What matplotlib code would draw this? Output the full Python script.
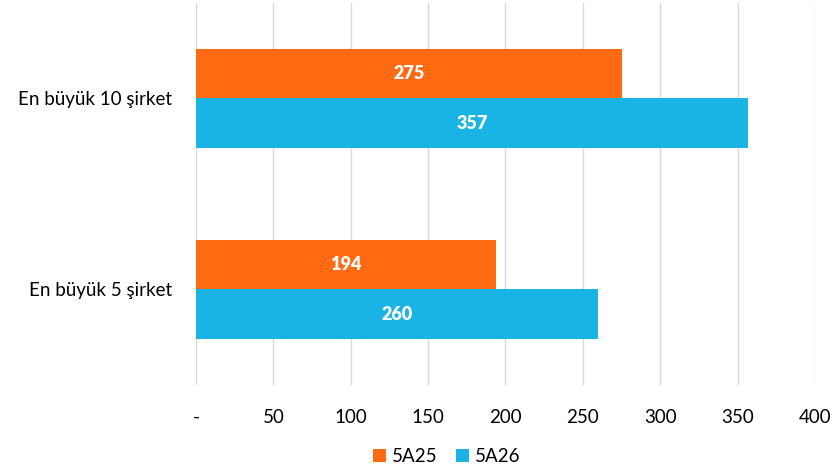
import numpy as np
import matplotlib.pyplot as plt

plt.rcParams['font.family'] = ['Lato', 'DejaVu Sans']

# data
categories = ['En büyük 10 şirket', 'En büyük 5 şirket']
series_names = ['5A25', '5A26']
values_5a25 = [275, 194]
values_5a26 = [357, 260]
xticks = [0, 50, 100, 150, 200, 250, 300, 350, 400]
xtick_labels = ['-', '50', '100', '150', '200', '250', '300', '350', '400']

colors = ['#FF6A13', '#19B4E3']

fig = plt.figure(figsize=(8.35, 4.75), dpi=100)
ax = fig.add_axes([0.2347, 0.1895, 0.7413, 0.8042])

y = np.arange(len(categories))
h = 0.26

b1 = ax.barh(y - h / 2, values_5a25, height=h, color=colors[0], label=series_names[0], zorder=3)
b2 = ax.barh(y + h / 2, values_5a26, height=h, color=colors[1], label=series_names[1], zorder=3)

for bars in (b1, b2):
    ax.bar_label(bars, label_type='center', color='white', fontsize=13,
                 fontweight='heavy')

ax.set_ylim(1.5, -0.5)
ax.set_xlim(0, 400)
ax.set_yticks(y)
ax.set_yticklabels(categories, fontsize=13.5)
ax.set_xticks(xticks)
ax.set_xticklabels(xtick_labels, fontsize=13.5)
ax.tick_params(length=0)
ax.tick_params(axis='y', pad=17)
ax.tick_params(axis='x', pad=17)

ax.grid(axis='x', color='#D9D9D9', linewidth=1, zorder=0)
for s in ax.spines.values():
    s.set_visible(False)

fig.legend(loc='lower center', bbox_to_anchor=(0.535, -0.015), ncol=2, frameon=False,
           fontsize=13.5, handlelength=0.7, handleheight=0.7, handletextpad=0.3,
           columnspacing=1.0)

fig.savefig('out.png', dpi=100)
